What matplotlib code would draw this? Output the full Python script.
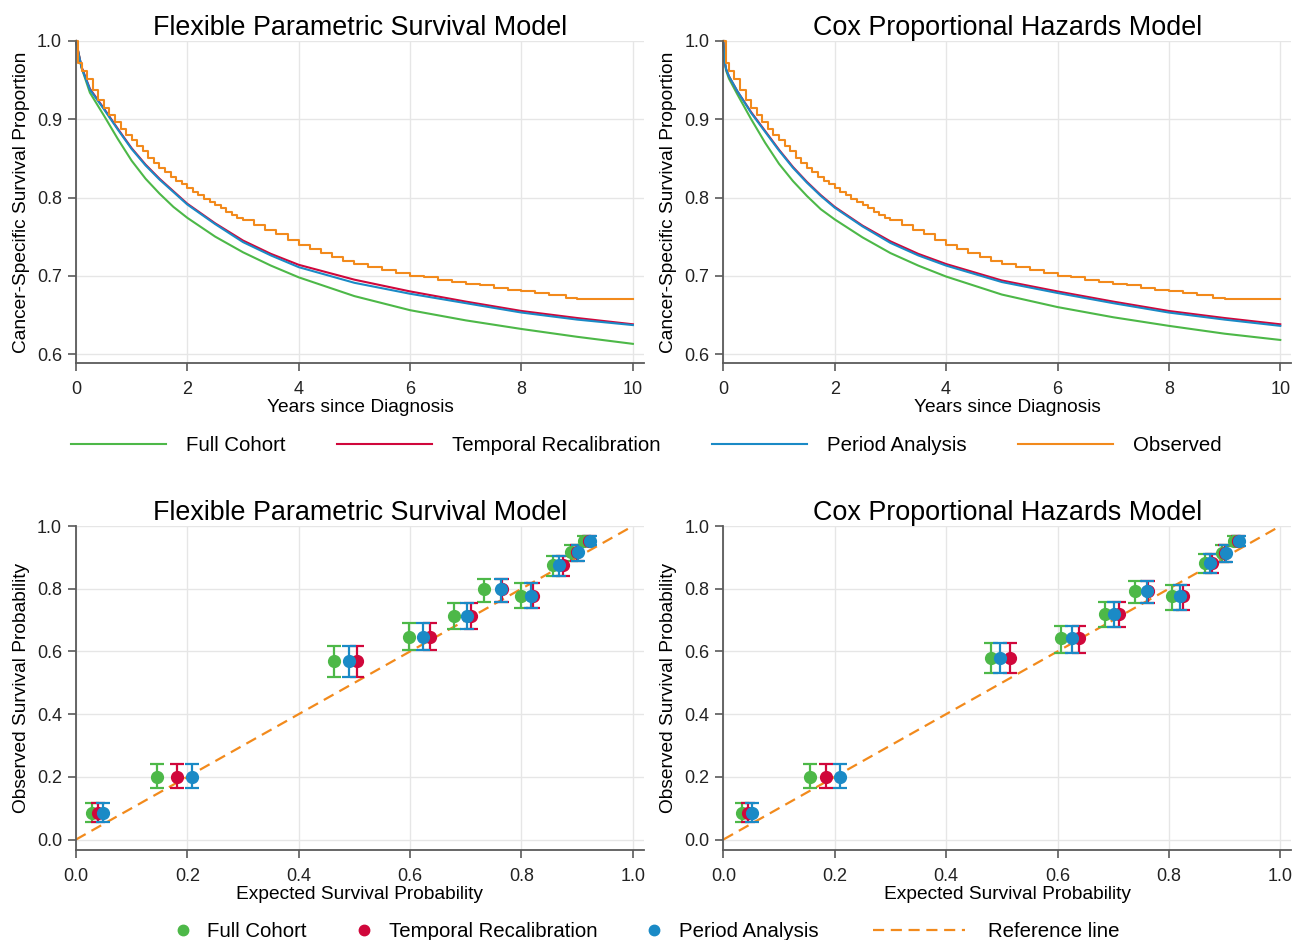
import matplotlib
matplotlib.use("Agg")
import matplotlib.pyplot as plt
from matplotlib.lines import Line2D

plt.rcParams['font.family'] = ['Liberation Sans', 'DejaVu Sans']

# colours
c_full = '#4db848'
c_recal = '#d0073b'
c_period = '#1a8ac6'
c_obs = '#f28a1c'

# ---- survival curves (top row) ----
t_fpm = [0, 0.1, 0.25, 0.5, 0.75, 1, 1.25, 1.5, 1.75, 2, 2.5, 3, 3.5, 4, 5, 6, 7, 8, 9, 10]
fpm_full = [1.0, 0.966, 0.934, 0.905, 0.875, 0.847, 0.824, 0.805, 0.788, 0.774, 0.750, 0.730,
            0.713, 0.698, 0.674, 0.656, 0.643, 0.632, 0.622, 0.613]
fpm_recal = [1.0, 0.967, 0.939, 0.914, 0.888, 0.863, 0.842, 0.824, 0.808, 0.792, 0.767, 0.745,
             0.728, 0.714, 0.695, 0.680, 0.667, 0.655, 0.646, 0.638]
fpm_period = [1.0, 0.966, 0.938, 0.913, 0.887, 0.862, 0.841, 0.823, 0.807, 0.791, 0.766, 0.743,
              0.726, 0.711, 0.691, 0.677, 0.665, 0.653, 0.644, 0.637]

t_cox = [0, 0.02, 0.05, 0.1, 0.25, 0.5, 0.75, 1, 1.25, 1.5, 1.75, 2, 2.5, 3, 3.5, 4, 5, 6, 7, 8, 9, 10]
cox_full = [1.0, 0.975, 0.962, 0.952, 0.932, 0.900, 0.870, 0.843, 0.821, 0.802, 0.785, 0.772,
            0.749, 0.729, 0.713, 0.699, 0.676, 0.660, 0.647, 0.636, 0.626, 0.618]
cox_recal = [1.0, 0.975, 0.964, 0.955, 0.936, 0.909, 0.885, 0.861, 0.839, 0.820, 0.803, 0.788,
             0.764, 0.744, 0.728, 0.715, 0.694, 0.680, 0.667, 0.655, 0.646, 0.638]
cox_period = [1.0, 0.975, 0.964, 0.955, 0.936, 0.908, 0.884, 0.860, 0.838, 0.819, 0.802, 0.787,
              0.763, 0.742, 0.726, 0.713, 0.692, 0.678, 0.665, 0.653, 0.644, 0.636]

# observed (Kaplan-Meier), drawn as a step function
t_obs = [0, 0.04, 0.1, 0.2, 0.3, 0.4, 0.5, 0.6, 0.7, 0.8, 0.9, 1.0,
         1.1, 1.2, 1.3, 1.4, 1.5, 1.6, 1.7, 1.8, 1.9, 2.0,
         2.1, 2.2, 2.3, 2.4, 2.5, 2.6, 2.7, 2.8, 2.9, 3.0,
         3.2, 3.4, 3.6, 3.8, 4.0, 4.2, 4.4, 4.6, 4.8, 5.0,
         5.25, 5.5, 5.75, 6.0, 6.25, 6.5, 6.75, 7.0, 7.25, 7.5, 7.75, 8.0, 8.25, 8.5,
         8.8, 9.0, 10.0]
s_obs = [1.0, 0.972, 0.962, 0.951, 0.937, 0.925, 0.914, 0.905, 0.897, 0.888, 0.880, 0.873,
         0.866, 0.859, 0.851, 0.844, 0.838, 0.832, 0.826, 0.821, 0.817, 0.812,
         0.807, 0.803, 0.798, 0.794, 0.790, 0.786, 0.782, 0.778, 0.774, 0.771,
         0.765, 0.759, 0.753, 0.746, 0.739, 0.734, 0.729, 0.724, 0.719, 0.715,
         0.711, 0.708, 0.704, 0.700, 0.698, 0.695, 0.692, 0.690, 0.688, 0.685, 0.682, 0.680,
         0.678, 0.675, 0.671, 0.670, 0.670]

# ---- calibration (bottom row) ----
fpm_exp_full = [0.028, 0.145, 0.463, 0.598, 0.678, 0.733, 0.799, 0.856, 0.889, 0.913]
fpm_exp_recal = [0.040, 0.181, 0.504, 0.636, 0.709, 0.765, 0.821, 0.874, 0.899, 0.921]
fpm_exp_period = [0.049, 0.208, 0.491, 0.624, 0.703, 0.763, 0.817, 0.868, 0.902, 0.923]
fpm_obs = [0.085, 0.200, 0.570, 0.647, 0.713, 0.798, 0.777, 0.876, 0.918, 0.953]
fpm_lo = [0.057, 0.163, 0.519, 0.604, 0.670, 0.759, 0.737, 0.841, 0.889, 0.939]
fpm_hi = [0.117, 0.241, 0.617, 0.690, 0.753, 0.830, 0.817, 0.904, 0.939, 0.968]

cox_exp_full = [0.033, 0.156, 0.481, 0.607, 0.685, 0.740, 0.806, 0.864, 0.895, 0.917]
cox_exp_recal = [0.044, 0.185, 0.515, 0.638, 0.710, 0.763, 0.826, 0.878, 0.900, 0.924]
cox_exp_period = [0.052, 0.209, 0.497, 0.626, 0.702, 0.761, 0.820, 0.874, 0.902, 0.926]
cox_obs = [0.085, 0.200, 0.580, 0.642, 0.718, 0.793, 0.776, 0.883, 0.915, 0.953]
cox_lo = [0.057, 0.163, 0.530, 0.596, 0.677, 0.755, 0.732, 0.849, 0.886, 0.936]
cox_hi = [0.117, 0.241, 0.626, 0.681, 0.759, 0.826, 0.812, 0.911, 0.939, 0.968]

ref = [0, 1]

fig = plt.figure(figsize=(12.94, 9.40), dpi=100)
fig.patch.set_facecolor('white')


def style_axes(ax):
    for s in ['top', 'right']:
        ax.spines[s].set_visible(False)
    for s in ['left', 'bottom']:
        ax.spines[s].set_color('#5a5a5a')
        ax.spines[s].set_linewidth(1.3)
    ax.tick_params(axis='both', direction='out', length=6, width=1.2, color='#5a5a5a',
                   labelsize=13, labelcolor='#222222', pad=4)
    ax.tick_params(axis='x', pad=7)
    ax.grid(True, color='#e6e6e6', linewidth=1.0)
    ax.set_axisbelow(True)


def survival_panel(ax, title, t, full, recal, period):
    style_axes(ax)
    ax.plot(t, full, color=c_full, lw=1.5, clip_on=False)
    ax.plot(t, recal, color=c_recal, lw=1.5, clip_on=False)
    ax.plot(t, period, color=c_period, lw=1.5, clip_on=False)
    ax.plot(t_obs, s_obs, color=c_obs, lw=1.5, drawstyle='steps-post', clip_on=False)
    ax.set_xlim(0, 10.2)
    ax.set_ylim(0.5885, 1.0)
    ax.set_xticks([0, 2, 4, 6, 8, 10])
    ax.set_yticks([0.6, 0.7, 0.8, 0.9, 1.0])
    ax.set_yticklabels(['0.6', '0.7', '0.8', '0.9', '1.0'])
    ax.set_xlabel('Years since Diagnosis', fontsize=13.8, labelpad=1)
    ax.set_ylabel('Cancer-Specific Survival Proportion', fontsize=13.8, labelpad=5)
    ax.set_title(title, fontsize=19.4, pad=3)


def calib_panel(ax, title, ex_full, ex_recal, ex_period, obs, lo, hi):
    style_axes(ax)
    ax.plot(ref, ref, color=c_obs, lw=1.6, dashes=(5, 3))
    yerr = [[o - l for o, l in zip(obs, lo)], [h - o for o, h in zip(obs, hi)]]
    for ex, col in [(ex_full, c_full), (ex_recal, c_recal), (ex_period, c_period)]:
        ax.errorbar(ex, obs, yerr=yerr, fmt='o', color=col, ms=8.5, elinewidth=1.6,
                    capsize=4.7, capthick=1.6, zorder=3)
    ax.set_xlim(0, 1.02)
    ax.set_ylim(-0.0335, 1.0)
    ticks = [0, 0.2, 0.4, 0.6, 0.8, 1.0]
    labs = ['0.0', '0.2', '0.4', '0.6', '0.8', '1.0']
    ax.set_xticks(ticks)
    ax.set_xticklabels(labs)
    ax.set_yticks(ticks)
    ax.set_yticklabels(labs)
    ax.set_xlabel('Expected Survival Probability', fontsize=13.8, labelpad=1)
    ax.set_ylabel('Observed Survival Probability', fontsize=13.8, labelpad=5)
    ax.set_title(title, fontsize=19.4, pad=3)


ax1 = fig.add_axes([0.0587, 0.6138, 0.439, 0.3426])
ax2 = fig.add_axes([0.559, 0.6138, 0.439, 0.3426])
ax3 = fig.add_axes([0.0587, 0.0957, 0.439, 0.3447])
ax4 = fig.add_axes([0.559, 0.0957, 0.439, 0.3447])

survival_panel(ax1, 'Flexible Parametric Survival Model', t_fpm, fpm_full, fpm_recal, fpm_period)
survival_panel(ax2, 'Cox Proportional Hazards Model', t_cox, cox_full, cox_recal, cox_period)
calib_panel(ax3, 'Flexible Parametric Survival Model', fpm_exp_full, fpm_exp_recal,
            fpm_exp_period, fpm_obs, fpm_lo, fpm_hi)
calib_panel(ax4, 'Cox Proportional Hazards Model', cox_exp_full, cox_exp_recal,
            cox_exp_period, cox_obs, cox_lo, cox_hi)

# top legend (lines)
line_handles = [Line2D([], [], color=c, lw=1.5) for c in [c_full, c_recal, c_period, c_obs]]
fig.legend(line_handles, ['Full Cohort', 'Temporal Recalibration', 'Period Analysis', 'Observed'],
           loc='center', bbox_to_anchor=(0.4995, 0.526), ncol=4, frameon=False, fontsize=14.7,
           handlelength=4.65, handletextpad=1.0, columnspacing=2.5)

# bottom legend (markers + reference line)
pt_handles = [Line2D([], [], color=c, marker='o', ls='none', ms=7.5)
              for c in [c_full, c_recal, c_period]]
fig.legend(pt_handles, ['Full Cohort', 'Temporal Recalibration', 'Period Analysis'],
           loc='center', bbox_to_anchor=(0.383, 0.009), ncol=3, frameon=False, fontsize=14.7,
           handlelength=1.0, handletextpad=0.7, columnspacing=2.3)
ref_handle = Line2D([], [], color=c_obs, lw=1.6, dashes=(5, 3))
fig.legend([ref_handle], ['Reference line'], loc='center', bbox_to_anchor=(0.770, 0.009),
           frameon=False, fontsize=14.7, handlelength=4.5, handletextpad=1.1)

fig.savefig('out.png', dpi=100, facecolor='white')
